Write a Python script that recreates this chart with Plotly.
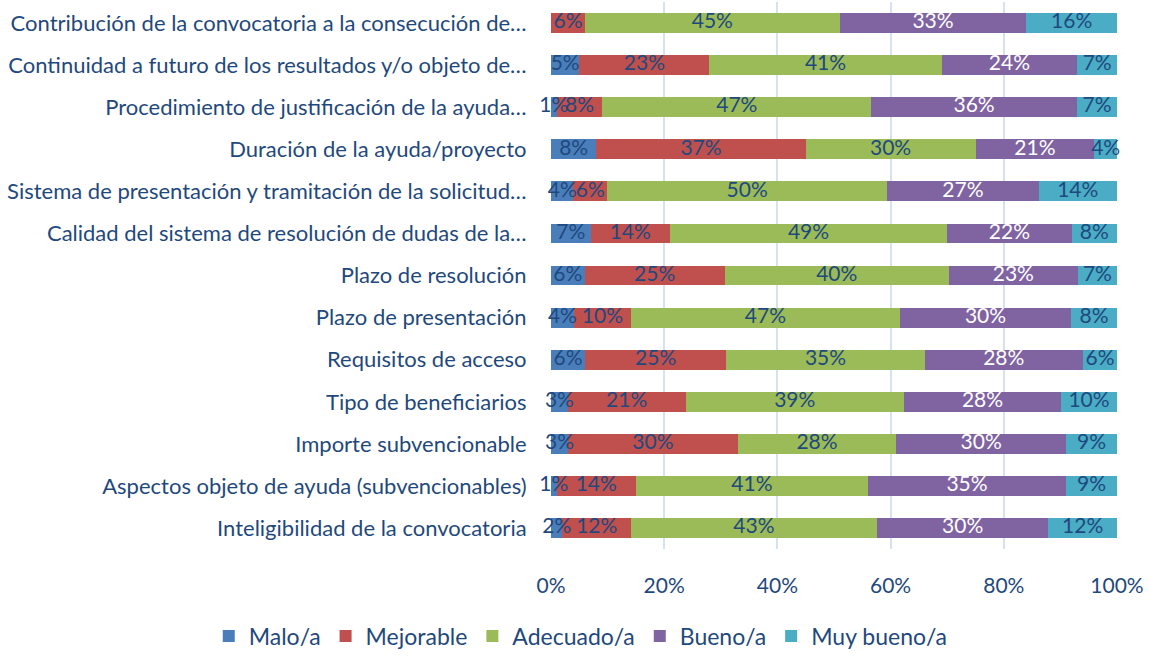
import plotly.graph_objects as go

categories = [
    "Contribución de la convocatoria a la consecución de…",
    "Continuidad a futuro de los resultados y/o objeto de…",
    "Procedimiento de justificación de la ayuda…",
    "Duración de la ayuda/proyecto",
    "Sistema de presentación y tramitación de la solicitud…",
    "Calidad del sistema de resolución de dudas de la…",
    "Plazo de resolución",
    "Plazo de presentación",
    "Requisitos de acceso",
    "Tipo de beneficiarios",
    "Importe subvencionable",
    "Aspectos objeto de ayuda (subvencionables)",
    "Inteligibilidad de la convocatoria",
]

malo = [0, 5, 1, 8, 4, 7, 6, 4, 6, 3, 3, 1, 2]
mejorable = [6, 23, 8, 37, 6, 14, 25, 10, 25, 21, 30, 14, 12]
adecuado = [45, 41, 47, 30, 50, 49, 40, 47, 35, 39, 28, 41, 43]
bueno = [33, 24, 36, 21, 27, 22, 23, 30, 28, 28, 30, 35, 30]
muy_bueno = [16, 7, 7, 4, 14, 8, 7, 8, 6, 10, 9, 9, 12]

x_ticks = [0, 20, 40, 60, 80, 100]
x_tick_labels = ["0%", "20%", "40%", "60%", "80%", "100%"]

series = [
    ("Malo/a", malo, "#4a7ebb", "#1f497d"),
    ("Mejorable", mejorable, "#c0504d", "#1f497d"),
    ("Adecuado/a", adecuado, "#9bbb59", "#1f497d"),
    ("Bueno/a", bueno, "#8064a2", "#ffffff"),
    ("Muy bueno/a", muy_bueno, "#4bacc6", "#1f497d"),
]

# each row is drawn as a share of its own total (100% stacked)
row_totals = [sum(vals) for vals in zip(malo, mejorable, adecuado, bueno, muy_bueno)]

FONT = "Lato"
TEXT_BLUE = "#1f497d"
W, H = 1150, 658

fig = go.Figure()
offsets = [0.0] * len(categories)
label_traces = []
for name, vals, color, tcolor in series:
    shares = [v / t * 100 for v, t in zip(vals, row_totals)]
    fig.add_trace(go.Bar(
        name=name,
        y=categories,
        x=shares,
        orientation="h",
        marker=dict(color=color, line=dict(width=0)),
        hoverinfo="skip",
    ))
    # value labels centred on each segment, allowed to spill past narrow ones
    mids = [o + s / 2 for o, s in zip(offsets, shares)]
    labels = [f"{v}%" if v > 0 else "" for v in vals]
    label_traces.append(go.Scatter(
        x=mids,
        y=categories,
        mode="text",
        text=labels,
        textposition="middle center",
        textfont=dict(family=FONT, size=21, color=tcolor),
        showlegend=False,
        hoverinfo="skip",
        cliponaxis=False,
    ))
    offsets = [o + s for o, s in zip(offsets, shares)]

for tr in label_traces:
    fig.add_trace(tr)

n = len(categories)
fig.update_layout(
    barmode="stack",
    bargap=0.53,
    width=W,
    height=H,
    margin=dict(l=0, r=0, t=0, b=0),
    paper_bgcolor="white",
    plot_bgcolor="white",
    font=dict(family=FONT, size=21, color=TEXT_BLUE),
    showlegend=True,
    legend=dict(
        orientation="h",
        x=0.505, y=(H - 651) / H, xanchor="center", yanchor="middle",
        font=dict(family=FONT, size=23, color=TEXT_BLUE),
        itemwidth=30,
        traceorder="normal",
    ),
    xaxis=dict(
        domain=[551 / W, 1117 / W],
        range=[0, 100],
        tickvals=x_ticks,
        ticktext=x_tick_labels,
        showgrid=True,
        gridcolor="#d6e2f2",
        gridwidth=2,
        zeroline=False,
        showline=False,
        ticks="outside",
        ticklen=18,
        tickcolor="rgba(0,0,0,0)",
        tickfont=dict(family=FONT, size=21, color=TEXT_BLUE),
        automargin=False,
    ),
    yaxis=dict(
        domain=[1 - 562 / H, 1 - 2 / H],
        range=[n - 0.5, -0.5],
        showgrid=False,
        showline=False,
        ticks="outside",
        ticklen=19,
        tickcolor="rgba(0,0,0,0)",
        tickfont=dict(family=FONT, size=22, color=TEXT_BLUE),
        automargin=False,
    ),
)

fig.write_html("out.html")
